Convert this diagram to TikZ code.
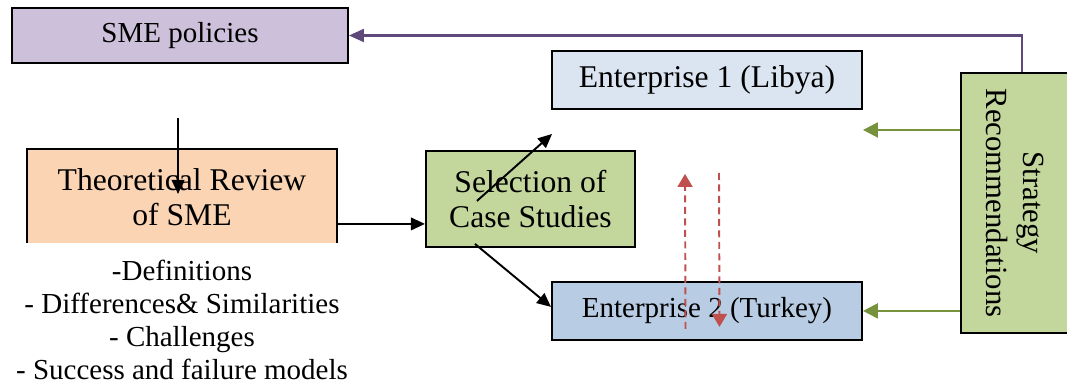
\documentclass[tikz,border=0pt]{standalone}
\usepackage{fontspec}
\setmainfont{Liberation Serif}
\usetikzlibrary{arrows.meta,positioning}

\definecolor{policyfill}{HTML}{CCC0DA}
\definecolor{theoryfill}{HTML}{FBD4B4}
\definecolor{casefill}{HTML}{C3D69B}
\definecolor{libyafill}{HTML}{DBE5F1}
\definecolor{turkeyfill}{HTML}{B8CCE4}
\definecolor{loopred}{HTML}{C0504D}
\definecolor{advicegreen}{HTML}{76923C}
\definecolor{policypurple}{HTML}{5F497A}

\begin{document}
\begin{tikzpicture}[
    box/.style={draw, line width=1.1pt, inner sep=0pt, align=center},
    bigtext/.style={font=\fontsize{18}{20}\selectfont},
    midtext/.style={font=\fontsize{16.5}{18.7}\selectfont},
    arrow/.style={-{Triangle[length=2.8mm,width=2.5mm]}, line width=1.1pt},
    loop/.style={-{Triangle[length=2.6mm,width=3mm]}, line width=1.1pt,
                 loopred, dash pattern=on 1.4mm off 0.9mm},
    advice/.style={-{Triangle[length=3mm,width=3mm]}, line width=1.3pt,
                   advicegreen},
    feedback/.style={-{Triangle[length=3mm,width=2.6mm]}, line width=1.2pt,
                     policypurple},
]
\useasboundingbox (0,0) rectangle (213.4mm,-76.6mm);

% Policy level
\node[box, midtext, fill=policyfill, minimum width=67.2mm, minimum height=11mm]
    (policies) at (36mm,-7.1mm) {SME policies};
% Literature
\node[box, bigtext, fill=theoryfill, minimum width=62mm, minimum height=19.2mm,
      below=16.8mm of policies, xshift=0.4mm] (theory)
    {Theoretical Review\\ of SME};
\node[midtext, fill=white, inner xsep=1mm, inner ysep=3.4mm, align=center,
      below=-0.6mm of theory] (topics)
    {-Definitions\\ - Differences\& Similarities\\ - Challenges\\
     - Success and failure models};
% Cases
\node[box, bigtext, fill=casefill, minimum width=41.8mm, minimum height=19.2mm,
      right=17.4mm of theory, yshift=-0.4mm] (cases) {Selection of\\ Case Studies};
\node[box, bigtext, fill=libyafill, minimum width=62mm, minimum height=11.6mm]
    (libya) at (141.4mm,-16mm) {Enterprise 1 (Libya)};
\node[box, midtext, fill=turkeyfill, minimum width=62mm, minimum height=11.6mm,
      below=34.2mm of libya] (turkey) {Enterprise 2 (Turkey)};
% Outcome
\node[box, font=\fontsize{17.5}{21}\selectfont, fill=casefill, rotate=-90,
      minimum width=52mm, minimum height=21.6mm] (strategy) at (203mm,-40.6mm)
    {Strategy\\ Recommendations};

\coordinate (feed) at ([xshift=-0.8mm,yshift=6mm]theory.north);
\coordinate (libyatip) at ([yshift=-4mm]libya.south east);

% Arrows
\draw[arrow] (feed) -- ([xshift=-0.8mm,yshift=-9.2mm]theory.north);
\draw[arrow] ([yshift=-5.4mm]theory.east) -- ([yshift=-5.4mm]theory.east -| cases.west);
\draw[arrow] ([xshift=-10.7mm,yshift=-0.4mm]cases.center)
    -- ([xshift=0.2mm,yshift=-4.8mm]libya.south west);
\draw[arrow] ([xshift=-11.1mm,yshift=0.8mm]cases.south)
    -- ([yshift=0.8mm]turkey.west);
\draw[loop] ([xshift=-4.3mm,yshift=-3.6mm]turkey.center)
    -- ([xshift=-4.4mm,yshift=-12.8mm]libya.south);
\draw[loop] ([xshift=2.4mm,yshift=-12.6mm]libya.south)
    -- ([xshift=2.5mm,yshift=-3.2mm]turkey.center);
\draw[advice] (strategy.south |- libyatip) -- (libyatip);
\draw[advice] (strategy.south |- turkey.east) -- (turkey.east);
\draw[feedback] ([xshift=1.4mm]strategy.west) |- (policies.east);

\end{tikzpicture}
\end{document}
